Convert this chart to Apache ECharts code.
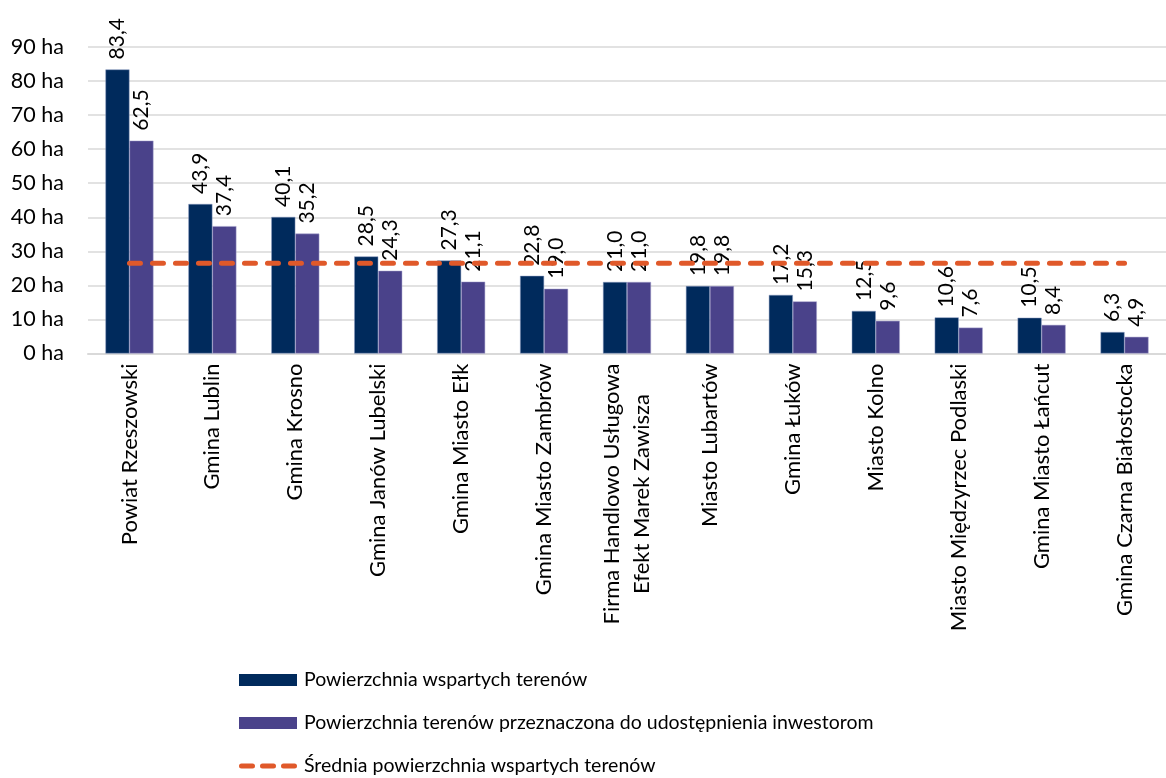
<!DOCTYPE html>
<html>
<head>
<meta charset="utf-8">
<script src="https://cdn.jsdelivr.net/npm/echarts@6/dist/echarts.min.js"></script>
<style>
  html, body { margin: 0; padding: 0; background: #fff; }
  #chart { width: 1166px; height: 778px; }
</style>
</head>
<body>
<div id="chart"></div>
<script>
// Beneficiaries (categories)
const categories = [
  'Powiat Rzeszowski',
  'Gmina Lublin',
  'Gmina Krosno',
  'Gmina Janów Lubelski',
  'Gmina Miasto Ełk',
  'Gmina Miasto Zambrów',
  'Firma Handlowo Usługowa\nEfekt Marek Zawisza',
  'Miasto Lubartów',
  'Gmina Łuków',
  'Miasto Kolno',
  'Miasto Międzyrzec Podlaski',
  'Gmina Miasto Łańcut',
  'Gmina Czarna Białostocka'
];

// Area of supported land, ha
const supportedArea = [83.4, 43.9, 40.1, 28.5, 27.3, 22.8, 21.0, 19.8, 17.2, 12.5, 10.6, 10.5, 6.3];

// Area intended to be made available to investors, ha
const investorArea = [62.5, 37.4, 35.2, 24.3, 21.1, 19.0, 21.0, 19.8, 15.3, 9.6, 7.6, 8.4, 4.9];

// Average supported area, ha (constant reference line)
const averageArea = [26.5, 26.5, 26.5, 26.5, 26.5, 26.5, 26.5, 26.5, 26.5, 26.5, 26.5, 26.5, 26.5];

// Y axis range
const yMin = 0, yMax = 90, yStep = 10;

const seriesNames = [
  'Powierzchnia wspartych terenów',
  'Powierzchnia terenów przeznaczona do udostępnienia inwestorom',
  'Średnia powierzchnia wspartych terenów'
];

const FONT = 'Lato';
const X_FS = 22;
const Y_FS = 21.5;
const VAL_FS = 21;
const LEG_FS = 19.5;

// Width of the longest line of a multi-line label, so shorter lines can be centred
function textWidth(str, size) {
  const c = document.createElement('canvas').getContext('2d');
  c.font = size + 'px ' + FONT;
  return Math.ceil(c.measureText(str).width);
}

const fmt = v => v.toFixed(1).replace('.', ',');

const valueLabel = {
  show: true,
  position: 'top',
  rotate: 90,
  align: 'left',
  verticalAlign: 'middle',
  distance: 10,
  color: '#000',
  fontFamily: FONT,
  fontSize: VAL_FS,
  formatter: p => fmt(p.value)
};

// Three rounded dashes for the average-line legend key
const dashIcon = 'path://' +
  'M2.5,0h11a2.5,2.5 0 0 1 0,5h-11a2.5,2.5 0 0 1 0,-5z' +
  'M23.5,0h11a2.5,2.5 0 0 1 0,5h-11a2.5,2.5 0 0 1 0,-5z' +
  'M44.5,0h11a2.5,2.5 0 0 1 0,5h-11a2.5,2.5 0 0 1 0,-5z';

const multiLineWidth = Math.max(...categories.filter(c => c.includes('\n'))
  .map(c => Math.max(...c.split('\n').map(s => textWidth(s, X_FS)))), 10);

const chart = echarts.init(document.getElementById('chart'));

chart.setOption({
  animation: false,
  backgroundColor: '#fff',
  grid: { left: 88, top: 47, width: 1091, height: 306.5, containLabel: false },
  legend: {
    orient: 'vertical',
    left: 239,
    top: 670,
    width: 800,
    height: 120,
    padding: 0,
    itemWidth: 58,
    itemHeight: 12,
    itemGap: 23,
    itemStyle: { borderWidth: 0 },
    textStyle: { fontFamily: FONT, fontSize: LEG_FS, color: '#000', padding: [0, 0, 0, 2] },
    data: [
      { name: seriesNames[0], icon: 'rect', itemStyle: { color: '#002a5c', borderWidth: 0 } },
      { name: seriesNames[1], icon: 'rect', itemStyle: { color: '#4a428a', borderWidth: 0 } },
      { name: seriesNames[2], icon: dashIcon, itemStyle: { color: '#e0592a', borderWidth: 0 } }
    ]
  },
  xAxis: {
    type: 'category',
    data: categories,
    axisLine: { lineStyle: { color: '#d9d9d9', width: 2 } },
    axisTick: { show: false },
    axisLabel: {
      interval: 0,
      rotate: 90,
      margin: 10,
      color: '#000',
      fontFamily: FONT,
      fontSize: X_FS,
      formatter: function (val) {
        const parts = val.split('\n');
        if (parts.length < 2) return val;
        return parts.map(s => '{c|' + s + '}').join('\n');
      },
      rich: {
        c: {
          width: multiLineWidth,
          align: 'center',
          lineHeight: 30,
          fontFamily: FONT,
          fontSize: X_FS,
          color: '#000'
        }
      }
    }
  },
  yAxis: {
    type: 'value',
    min: yMin,
    max: yMax,
    interval: yStep,
    axisLine: { show: false },
    axisTick: { show: false },
    axisLabel: {
      margin: 24,
      color: '#000',
      fontFamily: FONT,
      fontSize: Y_FS,
      formatter: '{value} ha'
    },
    splitLine: { lineStyle: { color: '#d9d9d9', width: 1.5 } }
  },
  series: [
    {
      name: seriesNames[0],
      type: 'bar',
      data: supportedArea,
      barWidth: 24,
      barGap: '0%',
      itemStyle: { color: '#002a5c', borderColor: '#8a9ac0', borderWidth: 0.5 },
      label: valueLabel
    },
    {
      name: seriesNames[1],
      type: 'bar',
      data: investorArea,
      barWidth: 24,
      barGap: '0%',
      itemStyle: { color: '#4a428a', borderColor: '#a6a2cc', borderWidth: 0.5 },
      label: valueLabel
    },
    {
      name: seriesNames[2],
      type: 'line',
      data: averageArea,
      symbol: 'none',
      itemStyle: { color: '#e0592a' },
      lineStyle: { color: '#e0592a', width: 5, type: [11, 12], cap: 'round' },
      z: 3
    }
  ]
});
</script>
</body>
</html>
